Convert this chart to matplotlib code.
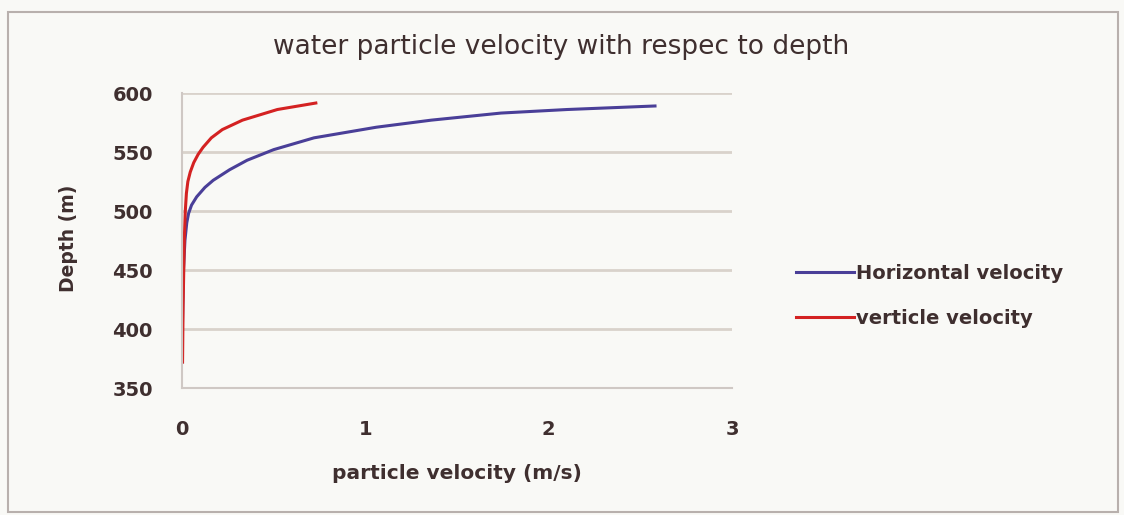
import matplotlib as mpl
import matplotlib.pyplot as plt
from matplotlib.patches import Rectangle

# depth (m) vs particle velocity (m/s)
horiz_depth = [372, 400, 450, 475, 490, 498, 505, 512, 520, 526, 535, 543, 552, 562, 571, 577, 583, 586, 589]
horiz_vel = [0.0, 0.002, 0.008, 0.016, 0.026, 0.036, 0.052, 0.08, 0.125, 0.17, 0.26, 0.355, 0.50, 0.72, 1.06, 1.36, 1.74, 2.10, 2.58]

vert_depth = [372, 420, 478, 500, 515, 525, 533, 541, 548, 554, 562, 569, 577, 586, 591.5]
vert_vel = [0.003, 0.006, 0.013, 0.018, 0.024, 0.032, 0.045, 0.064, 0.088, 0.115, 0.16, 0.22, 0.33, 0.52, 0.73]

yticks = [350, 400, 450, 500, 550, 600]
xticks = [0, 1, 2, 3]

mpl.rc('font', family='DejaVu Sans')
txt = '#3f2f2f'
grid = '#d9d2cb'

fig = plt.figure(figsize=(11.24, 5.15), dpi=100, facecolor='#f9f9f6')
fig.patches.append(Rectangle((8 / 1124, 1 - 512 / 515), 1110 / 1124, 500 / 515,
                             transform=fig.transFigure, fill=False,
                             edgecolor='#b8b0ad', linewidth=1.5))

ax = fig.add_axes([182 / 1124, 1 - 388 / 515, 550 / 1124, 295 / 515])
ax.set_facecolor('none')

ax.plot(horiz_vel, horiz_depth, color='#4a3f98', linewidth=2.2, label='Horizontal velocity')
ax.plot(vert_vel, vert_depth, color='#d42222', linewidth=2.2, label='verticle velocity')

ax.set_xlim(0, 3)
ax.set_ylim(350, 600)
ax.set_xticks(xticks)
ax.set_yticks(yticks)
ax.tick_params(length=0, labelsize=14, labelcolor=txt)
ax.tick_params(axis='y', pad=21)
ax.tick_params(axis='x', pad=23)
for lab in ax.get_xticklabels() + ax.get_yticklabels():
    lab.set_fontweight('bold')

ax.grid(axis='y', color=grid, linewidth=2)
ax.set_axisbelow(True)
for side in ['top', 'right']:
    ax.spines[side].set_visible(False)
for side in ['left', 'bottom']:
    ax.spines[side].set_color('#cfc8c4')
    ax.spines[side].set_linewidth(1.5)

ax.set_xlabel('particle velocity (m/s)', fontsize=14.5, fontweight='bold', color=txt, labelpad=18)
fig.text(68 / 1124, 1 - 238 / 515, 'Depth (m)', rotation=90, ha='center', va='center',
         fontsize=13.5, fontweight='bold', color=txt)
fig.text(561 / 1124, 1 - 47 / 515, 'water particle velocity with respec to depth',
         ha='center', va='center', fontsize=19, color=txt)

fig.legend(loc='center left', bbox_to_anchor=(778 / 1124, 1 - 296 / 515), frameon=False,
           handlelength=3.0, handletextpad=0.1, labelspacing=1.35,
           labelcolor=txt, prop={'weight': 'bold', 'size': 14})

fig.savefig('out.png', dpi=100, facecolor=fig.get_facecolor())
